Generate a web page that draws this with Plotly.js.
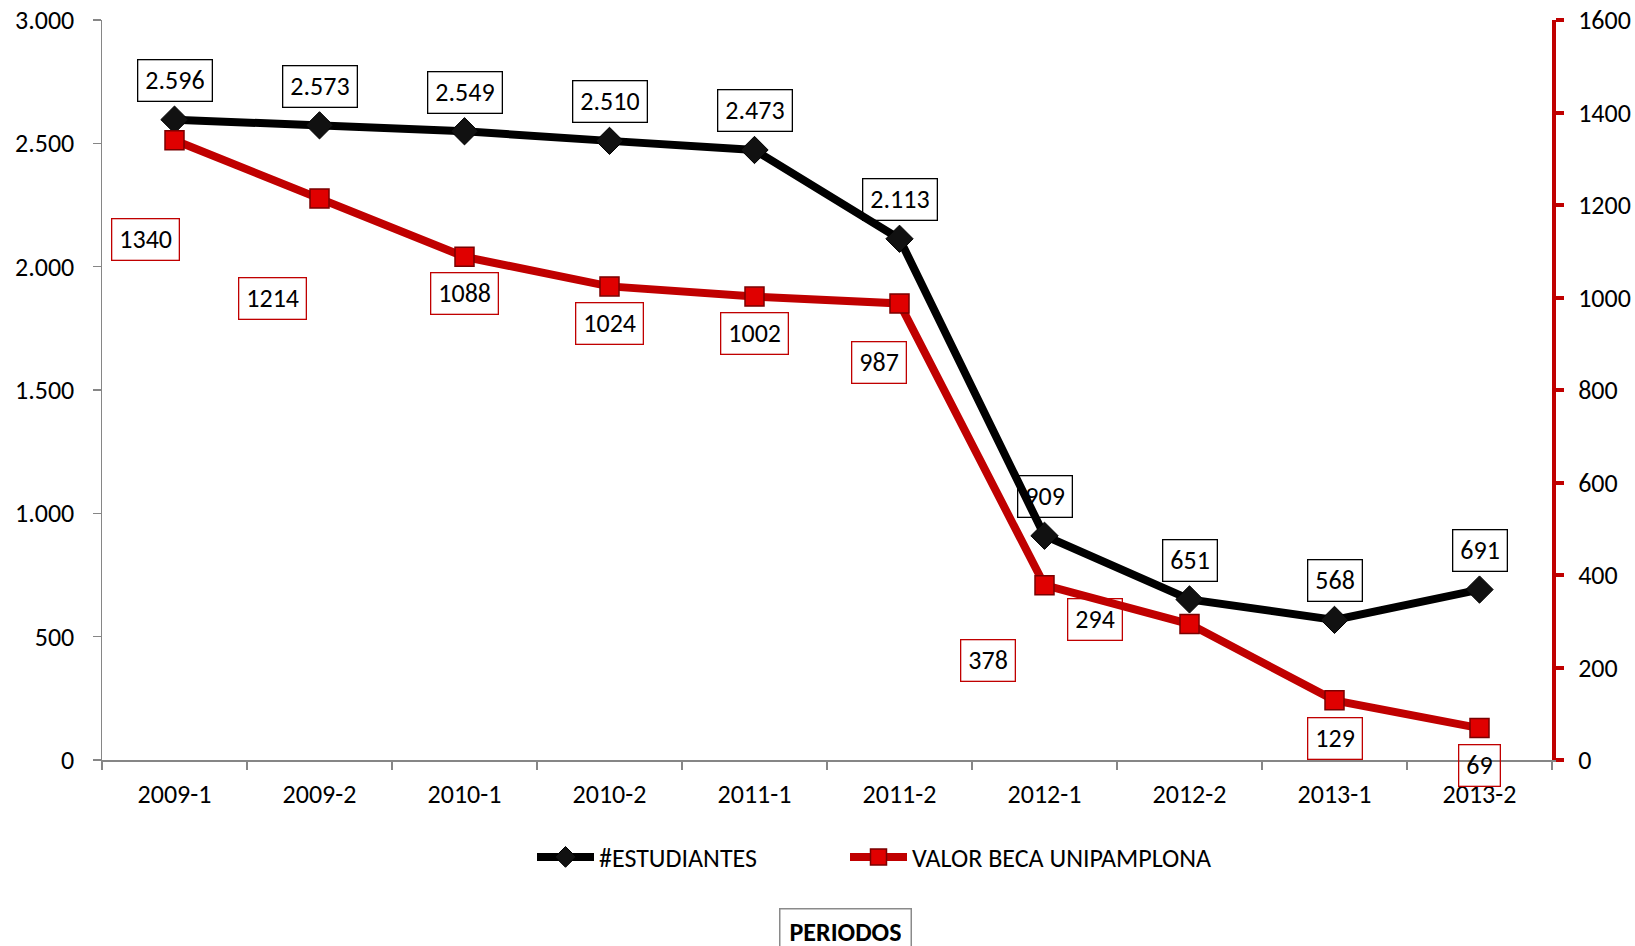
<!DOCTYPE html>
<html>
<head>
<meta charset="utf-8">
<script src="https://cdn.plot.ly/plotly-3.0.1.min.js"></script>
<style>
  html, body { margin: 0; padding: 0; background: #fff; }
  #chart { width: 1635px; height: 946px; }
</style>
</head>
<body>
<div id="chart"></div>
<script>
// ---- data ----
const periodos = ["2009-1","2009-2","2010-1","2010-2","2011-1","2011-2","2012-1","2012-2","2013-1","2013-2"];
const estudiantes = [2596, 2573, 2549, 2510, 2473, 2113, 909, 651, 568, 691];
const valorBeca = [1340, 1214, 1088, 1024, 1002, 987, 378, 294, 129, 69];
const leftTicks = [0, 500, 1000, 1500, 2000, 2500, 3000];
const rightTicks = [0, 200, 400, 600, 800, 1000, 1200, 1400, 1600];

// label offsets in pixels (label placement, as in the original)
const redLabelDx = [-29, -47, 0, 0, 0, -21, -57, -95, 0, 0];
const redLabelDy = [-99, -100, -37, -37, -37, -59, -75, 5, -38, -37];

const FONT = "Carlito, Lato, 'Open Sans', sans-serif";
const RED = "#C00000";
const FS = 26;

function fmtDots(v) {
  return String(v).replace(/\B(?=(\d{3})+(?!\d))/g, ".");
}

const traces = [
  {
    x: periodos, y: estudiantes, name: "#ESTUDIANTES", type: "scatter", mode: "lines+markers",
    yaxis: "y", legend: "legend",
    line: { color: "#000000", width: 8 },
    marker: { symbol: "diamond", size: 21, color: "#111111", line: { color: "#000000", width: 1 } }
  },
  {
    x: periodos, y: valorBeca, name: "VALOR BECA UNIPAMPLONA", type: "scatter", mode: "lines+markers",
    yaxis: "y2", legend: "legend2",
    line: { color: RED, width: 8 },
    marker: { symbol: "square", size: 19, color: "#E00000", line: { color: "#7a0000", width: 1.5 } }
  }
];

const annotations = [];
periodos.forEach((p, i) => {
  annotations.push({
    x: p, y: estudiantes[i], xref: "x", yref: "y",
    text: fmtDots(estudiantes[i]), showarrow: false,
    yshift: 39, xshift: 0, height: 26,
    font: { family: FONT, size: FS, color: "#000" },
    bordercolor: "#000", borderwidth: 1.3, borderpad: 7
  });
  annotations.push({
    x: p, y: valorBeca[i], xref: "x", yref: "y2",
    text: String(valorBeca[i]), showarrow: false,
    xshift: redLabelDx[i], yshift: redLabelDy[i], height: 26,
    font: { family: FONT, size: FS, color: "#000" },
    bordercolor: RED, borderwidth: 1.3, borderpad: 7
  });
});
annotations.push({
  xref: "paper", yref: "paper", x: (845 - 102) / 1450, y: (760 - 931) / 740,
  xanchor: "center", yanchor: "middle",
  text: "<b>PERIODOS</b>", showarrow: false, height: 26,
  font: { family: FONT, size: FS, color: "#000" },
  bordercolor: "#8a8a8a", borderwidth: 1.5, borderpad: 9, bgcolor: "#fff"
});

const legendCommon = {
  orientation: "h", yanchor: "middle", xanchor: "left", y: (760 - 857) / 740,
  font: { family: FONT, size: FS, color: "#000" },
  itemwidth: 57, bgcolor: "rgba(0,0,0,0)"
};

const layout = {
  width: 1635, height: 946,
  margin: { l: 102, r: 83, t: 20, b: 186 },
  paper_bgcolor: "#fff", plot_bgcolor: "#fff",
  separators: ",.",
  font: { family: FONT, size: FS, color: "#000" },
  showlegend: true,
  legend: Object.assign({}, legendCommon, { x: (532 - 102) / 1450 }),
  legend2: Object.assign({}, legendCommon, { x: (845 - 102) / 1450 }),
  xaxis: {
    type: "category", categoryorder: "array", categoryarray: periodos,
    range: [-0.5, 9.5],
    showline: true, linecolor: "#868686", linewidth: 1.5,
    ticks: "outside", tickson: "boundaries", ticklen: 8, tickcolor: "#868686", tickwidth: 1.5,
    showgrid: false, zeroline: false,
    tickfont: { family: FONT, size: FS },
    ticklabelstandoff: 10
  },
  yaxis: {
    range: [0, 3000], tickvals: leftTicks, tickformat: ",d",
    showline: true, linecolor: "#868686", linewidth: 1.5,
    ticks: "outside", ticklen: 8, tickcolor: "#868686", tickwidth: 1.5,
    showgrid: false, zeroline: false,
    tickfont: { family: FONT, size: FS },
    ticklabelstandoff: 13
  },
  yaxis2: {
    overlaying: "y", side: "right",
    range: [0, 1600], tickvals: rightTicks, tickformat: "d",
    showline: true, linecolor: RED, linewidth: 4,
    ticks: "outside", ticklen: 8, tickcolor: RED, tickwidth: 4,
    showgrid: false, zeroline: false,
    tickfont: { family: FONT, size: FS },
    ticklabelstandoff: 9
  },
  annotations: annotations
};

Plotly.newPlot("chart", traces, layout, { displayModeBar: false, staticPlot: true });
</script>
</body>
</html>
